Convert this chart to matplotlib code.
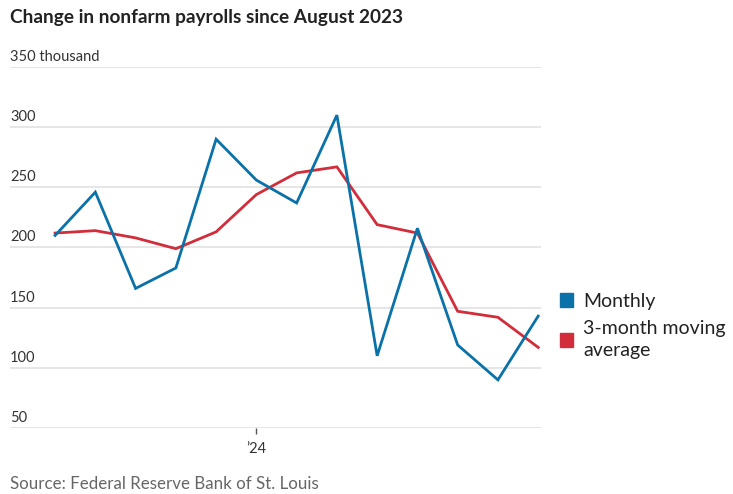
import numpy as np
import matplotlib
matplotlib.use("Agg")
import matplotlib.pyplot as plt
from matplotlib.patches import Patch

plt.rcParams['font.family'] = ['Lato', 'DejaVu Sans']

#%% data: Aug 2023 .. Aug 2024, thousands
months = ['Aug 23', 'Sep 23', 'Oct 23', 'Nov 23', 'Dec 23', 'Jan 24', 'Feb 24',
          'Mar 24', 'Apr 24', 'May 24', 'Jun 24', 'Jul 24', 'Aug 24']
monthly = [210, 246, 166, 183, 290, 256, 237, 310, 110, 216, 119, 90, 143]
moving_avg = [212, 214, 208, 199, 213, 244, 262, 267, 219, 212, 147, 142, 117]
yticks = [50, 100, 150, 200, 250, 300, 350]
ytick_labels = ['50', '100', '150', '200', '250', '300', '350 thousand']

blue = '#0a72a8'
red = '#d22d3a'

#%% figure
fig = plt.figure(figsize=(7.33, 4.94), dpi=100)
ax = fig.add_axes([10/733, 1 - 428/494, 531/733, 361/494])

x = np.arange(len(months))
ax.plot(x, monthly, color=blue, lw=2.0, solid_joinstyle='miter', zorder=3)
ax.plot(x, moving_avg, color=red, lw=2.0, solid_joinstyle='miter', zorder=2)

ax.set_xlim(-1.12, 12.07)
ax.set_ylim(50, 350)
for v in yticks:
    ax.axhline(v, color='#e2e2e2', lw=1.2, zorder=1)
for v, lab in zip(yticks, ytick_labels):
    ax.text(0.0, v + 2.5, lab, transform=ax.get_yaxis_transform(),
            ha='left', va='bottom', fontsize=10.5, color='#333333')

ax.set_yticks([])
ax.set_xticks([5])
ax.set_xticklabels(['\u201924'], fontsize=10.5, color='#333333')
ax.tick_params(axis='x', length=4, width=1, color='#555555', pad=6)
for s in ax.spines.values():
    s.set_visible(False)

fig.text(10/733, 1 - 17/494, 'Change in nonfarm payrolls since August 2023',
         fontsize=13.7, fontweight='bold', color='#222222', va='center')
fig.text(10/733, 1 - 484/494, 'Source: Federal Reserve Bank of St. Louis',
         fontsize=12.2, color='#666666', va='center')

handles = [Patch(color=blue, label='Monthly'),
           Patch(color=red, label='3-month moving\naverage')]
leg = fig.legend(handles=handles, loc='upper left', bbox_to_anchor=(546/733, 1 - 279/494),
                 frameon=False, fontsize=14, handlelength=0.7, handleheight=0.7,
                 handletextpad=0.5, labelspacing=0.55, labelcolor='#222222',
                 borderpad=0.2)
for t in leg.get_texts():
    t.set_linespacing(1.35)

fig.savefig('out.png', dpi=100)
